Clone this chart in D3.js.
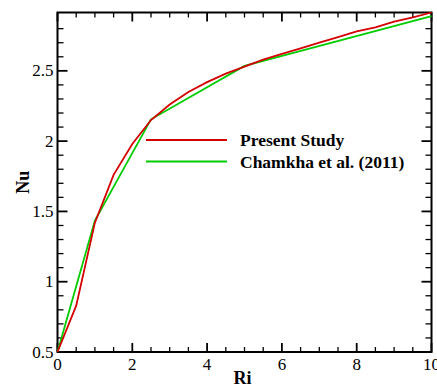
<!DOCTYPE html>
<html>
<head>
<meta charset="utf-8">
<script src="https://cdn.jsdelivr.net/npm/d3@7"></script>
<style>
  body { margin: 0; background: #fff; }
  svg { display: block; font-family: "Liberation Serif", "Times New Roman", serif; }
</style>
</head>
<body>
<div id="chart"></div>
<script>
// Present Study
const presentRi = [0, 0.5, 1, 1.5, 2, 2.5, 3, 3.5, 4, 4.5, 5, 5.5, 6, 6.5, 7, 7.5, 8, 8.5, 9, 9.5, 10];
const presentNu = [0.5, 0.83, 1.42, 1.76, 1.98, 2.15, 2.26, 2.35, 2.42, 2.48, 2.53, 2.58, 2.62, 2.66, 2.70, 2.74, 2.78, 2.81, 2.85, 2.88, 2.915];
// Chamkha et al. (2011)
const chamkhaRi = [0, 1, 2.5, 5, 10];
const chamkhaNu = [0.5, 1.435, 2.155, 2.535, 2.89];

const xTicks = [0, 2, 4, 6, 8, 10];
const yTicks = [0.5, 1, 1.5, 2, 2.5];
const legendLabels = ["Present Study", "Chamkha et al. (2011)"];

const width = 437, height = 387;
const margin = { left: 57.5, right: 5.5, top: 12.5, bottom: 35 };

const svg = d3.select("#chart").append("svg")
    .attr("width", width)
    .attr("height", height);

const x = d3.scaleLinear().domain([0, 10]).range([margin.left, width - margin.right]);
const y = d3.scaleLinear().domain([0.5, 2.915]).range([height - margin.bottom, margin.top]);

const x0 = x.range()[0], x1 = x.range()[1];
const y0 = y.range()[0], y1 = y.range()[1];

// minor and major ticks on all four sides, pointing inward
const xMinor = d3.range(0, 10.01, 0.5);
const yMinor = d3.range(0.5, 2.9, 0.1);
const ticks = svg.append("g").attr("stroke", "#000");

xMinor.forEach(v => {
    const major = xTicks.includes(v);
    const len = major ? 9 : 5;
    ticks.append("line").attr("x1", x(v)).attr("x2", x(v)).attr("y1", y0).attr("y2", y0 - len)
        .attr("stroke-width", major ? 1.8 : 1.3);
    ticks.append("line").attr("x1", x(v)).attr("x2", x(v)).attr("y1", y1).attr("y2", y1 + len)
        .attr("stroke-width", major ? 1.8 : 1.3);
});
yMinor.forEach(v => {
    const major = yTicks.some(t => Math.abs(t - v) < 1e-6);
    const len = major ? 10 : 6;
    ticks.append("line").attr("y1", y(v)).attr("y2", y(v)).attr("x1", x0).attr("x2", x0 + len)
        .attr("stroke-width", major ? 1.8 : 1.3);
    ticks.append("line").attr("y1", y(v)).attr("y2", y(v)).attr("x1", x1).attr("x2", x1 - len)
        .attr("stroke-width", major ? 1.8 : 1.3);
});

// frame
svg.append("rect")
    .attr("x", x0).attr("y", y1)
    .attr("width", x1 - x0).attr("height", y0 - y1)
    .attr("fill", "none").attr("stroke", "#000").attr("stroke-width", 2);

// tick labels
svg.append("g").selectAll("text").data(xTicks).enter().append("text")
    .attr("x", d => x(d)).attr("y", y0 + 18)
    .attr("text-anchor", "middle").attr("font-size", 17)
    .text(d => d);
svg.append("g").selectAll("text").data(yTicks).enter().append("text")
    .attr("x", x0 - 4).attr("y", d => y(d) + 5.5)
    .attr("text-anchor", "end").attr("font-size", 17)
    .text(d => d);

// axis titles
svg.append("text").attr("x", (x0 + x1) / 2 - 2).attr("y", 384)
    .attr("text-anchor", "middle").attr("font-size", 18).attr("font-weight", "bold")
    .text("Ri");
svg.append("text").attr("transform", `translate(29,${(y0 + y1) / 2}) rotate(-90)`)
    .attr("text-anchor", "middle").attr("font-size", 18).attr("font-weight", "bold")
    .text("Nu");

// curves
const line = d3.line().x(d => x(d[0])).y(d => y(d[1]));
const series = [
    { pts: d3.zip(chamkhaRi, chamkhaNu), color: "#00cc00" },
    { pts: d3.zip(presentRi, presentNu), color: "#d40000" }
];
svg.append("g").selectAll("path").data(series).enter().append("path")
    .attr("d", d => line(d.pts))
    .attr("fill", "none")
    .attr("stroke", d => d.color)
    .attr("stroke-width", 1.8);

// legend
const legendColors = ["#d40000", "#00cc00"];
const lg = svg.append("g");
legendLabels.forEach((lab, i) => {
    const ly = 140 + i * 21.5;
    lg.append("line").attr("x1", 146).attr("x2", 227).attr("y1", ly).attr("y2", ly)
        .attr("stroke", legendColors[i]).attr("stroke-width", 1.8);
    lg.append("text").attr("x", 240).attr("y", ly + 6)
        .attr("font-size", 17.5).attr("font-weight", "bold")
        .text(lab);
});
</script>
</body>
</html>
